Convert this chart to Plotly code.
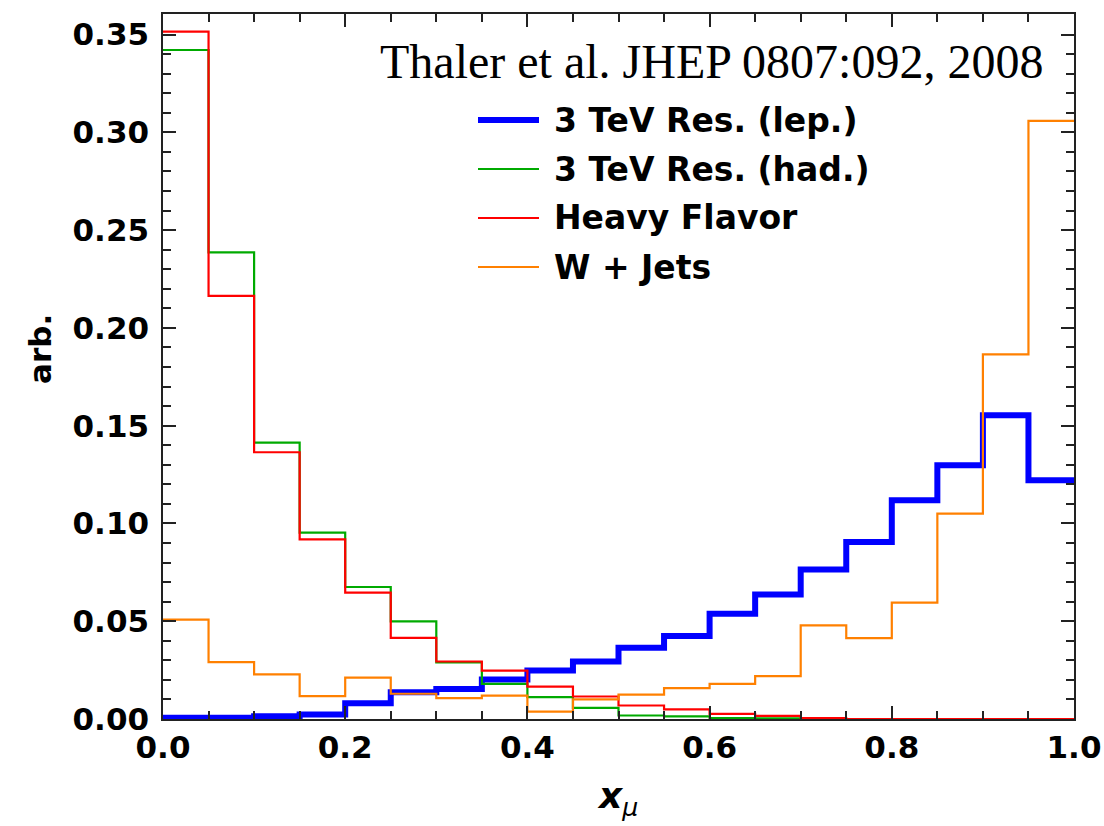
import plotly.graph_objects as go

# bin edges (width 0.05)
bin_edges = [round(0.05 * i, 2) for i in range(21)]

lep = [0.0006, 0.0006, 0.0014, 0.0023, 0.0081, 0.0137, 0.0154, 0.0202, 0.0248, 0.0294,
       0.0364, 0.0424, 0.0538, 0.0637, 0.0765, 0.0905, 0.1118, 0.1297, 0.1553, 0.1221]
had = [0.3421, 0.2386, 0.1413, 0.0953, 0.0675, 0.0499, 0.0290, 0.0180, 0.0112, 0.0057,
       0.0018, 0.0013, 0.0005, 0.0003, 0.0, 0.0, 0.0, 0.0, 0.0, 0.0]
heavy = [0.3515, 0.2164, 0.1364, 0.0919, 0.0646, 0.0415, 0.0294, 0.0247, 0.0166, 0.0115,
         0.0069, 0.0049, 0.0026, 0.0016, 0.0004, 0.0, 0.0, 0.0, 0.0, 0.0]
wjets = [0.0508, 0.0291, 0.0228, 0.0117, 0.0212, 0.0129, 0.0107, 0.0120, 0.0038, 0.0100,
         0.0125, 0.0158, 0.0180, 0.0219, 0.0479, 0.0414, 0.0595, 0.1050, 0.1865, 0.3058]

series_names = ["3 TeV Res. (lep.)", "3 TeV Res. (had.)", "Heavy Flavor", "W + Jets"]
series_values = [lep, had, heavy, wjets]
series_colors = ["#0000FF", "#00AA00", "#FF0000", "#FF8000"]
series_widths = [6, 2.2, 2.2, 2.2]

y_ticks = [0.0, 0.05, 0.10, 0.15, 0.20, 0.25, 0.30, 0.35]
x_ticks = [0.0, 0.2, 0.4, 0.6, 0.8, 1.0]

fig = go.Figure()
for name, vals, col, w in zip(series_names, series_values, series_colors, series_widths):
    fig.add_trace(go.Scatter(
        x=bin_edges, y=vals + [vals[-1]], mode="lines", name=name,
        line=dict(color=col, width=w, shape="hv"), showlegend=False,
    ))

L, R, T, B = 163, 30, 14, 107
W, H = 1104, 826
pw, ph = W - L - R, H - T - B

def px(xp):
    return (xp - L) / pw

def py(yp):
    return (H - B - yp) / ph

tickfont = dict(family="DejaVu Sans", size=31, color="black", weight="bold")

fig.update_layout(
    width=W, height=H,
    margin=dict(l=L, r=R, t=T, b=B, autoexpand=False),
    paper_bgcolor="white", plot_bgcolor="white",
    xaxis=dict(range=[0, 1], tickvals=x_ticks, ticktext=[f"{v:.1f}" for v in x_ticks],
               ticks="inside", ticklen=13, tickwidth=1.5, tickcolor="#222", automargin=False,
               showline=True, linecolor="#222", linewidth=1.5, mirror="ticks",
               showgrid=False, zeroline=False, tickfont=tickfont,
               minor=dict(dtick=0.05, tick0=0, ticks="inside", ticklen=8, tickwidth=1.5,
                          tickcolor="#222", showgrid=False)),
    yaxis=dict(range=[0, 0.3605], tickvals=y_ticks, ticktext=[f"{v:.2f}" for v in y_ticks],
               ticks="inside", ticklen=13, tickwidth=1.5, tickcolor="#222", automargin=False,
               showline=True, linecolor="#222", linewidth=1.5, mirror="ticks",
               showgrid=False, zeroline=False, tickfont=tickfont, ticklabelstandoff=6,
               minor=dict(dtick=0.01, tick0=0, ticks="inside", ticklen=8, tickwidth=1.5,
                          tickcolor="#222", showgrid=False)),
    showlegend=False,
)

annotations = [
    dict(text="Thaler et al. JHEP 0807:092, 2008", x=px(1045), y=py(62), xref="paper", yref="paper",
         xanchor="right", yanchor="middle", showarrow=False,
         font=dict(family="Liberation Serif", size=48, color="black")),
    dict(text="arb.", x=px(40), y=py(349), xref="paper", yref="paper", textangle=-90,
         xanchor="center", yanchor="middle", showarrow=False,
         font=dict(family="DejaVu Sans", size=31, color="black", weight="bold")),
    dict(text="<b><i>x</i></b><sub><i>μ</i></sub>", x=px(617), y=py(798), xref="paper", yref="paper",
         xanchor="center", yanchor="middle", showarrow=False,
         font=dict(family="DejaVu Sans", size=36, color="black")),
]

# custom legend
leg_y = [120, 169, 218, 267]
shapes = []
for name, col, w, yy in zip(series_names, series_colors, series_widths, leg_y):
    shapes.append(dict(type="line", xref="paper", yref="paper", x0=px(478), x1=px(539),
                       y0=py(yy), y1=py(yy), line=dict(color=col, width=w)))
    annotations.append(dict(text=name, x=px(552), y=py(yy), xref="paper", yref="paper",
                            xanchor="left", yanchor="middle", showarrow=False,
                            font=dict(family="DejaVu Sans", size=33, color="black", weight="bold")))

fig.update_layout(annotations=annotations, shapes=shapes)
fig.write_html("out.html")
